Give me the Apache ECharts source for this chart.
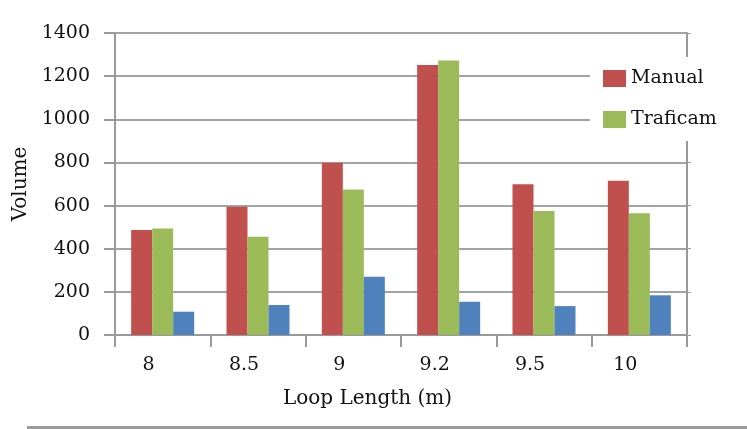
<!DOCTYPE html>
<html>
<head>
<meta charset="utf-8">
<script src="https://cdn.jsdelivr.net/npm/echarts@6/dist/echarts.min.js"></script>
<style>html,body{margin:0;padding:0;background:#fff;}#c{width:747px;height:429px;}</style>
</head>
<body>
<div id="c"></div>
<script>
const categories = ['8', '8.5', '9', '9.2', '9.5', '10'];
const manual = [487, 595, 799, 1252, 699, 715];
const traficam = [494, 456, 675, 1272, 575, 564];
const third = [108, 139, 270, 154, 134, 184];
const yTicks = [0, 200, 400, 600, 800, 1000, 1200, 1400];

const FONT = 'DejaVu Serif';
const chart = echarts.init(document.getElementById('c'), null, {renderer: 'canvas'});
chart.setOption({
  animation: false,
  backgroundColor: '#ffffff',
  grid: {left: 115, right: 60, top: 33, bottom: 94, show: false},
  legend: {
    data: ['Manual', 'Traficam'],
    orient: 'vertical',
    left: 590, top: 57,
    padding: [12, 12, 12, 13],
    backgroundColor: '#ffffff',
    itemWidth: 23, itemHeight: 17, itemGap: 22,
    icon: 'rect',
    textStyle: {fontFamily: FONT, fontSize: 19, color: '#111', padding: [0, 0, 0, 0]}
  },
  xAxis: [{
    type: 'category',
    data: categories,
    boundaryGap: true,
    axisLine: {show: true, lineStyle: {color: '#9a9a9a', width: 2}},
    axisTick: {show: true, inside: false, length: 12, lineStyle: {color: '#9a9a9a', width: 2}},
    axisLabel: {fontFamily: FONT, fontSize: 19, color: '#111', margin: 21, padding: [0, 28, 0, 0]},
    name: 'Loop Length (m)',
    nameLocation: 'middle',
    nameGap: 54,
    nameTextStyle: {fontFamily: FONT, fontSize: 20, color: '#111', padding: [0, 67, 0, 0]}
  }],
  yAxis: [{
    type: 'value',
    min: yTicks[0], max: yTicks[yTicks.length - 1], interval: 200,
    axisLine: {show: true, lineStyle: {color: '#9a9a9a', width: 2}},
    axisTick: {show: true, inside: false, length: 11, lineStyle: {color: '#9a9a9a', width: 2}},
    splitLine: {show: true, lineStyle: {color: '#a3a3a3', width: 2}},
    axisLabel: {fontFamily: FONT, fontSize: 19, color: '#111', margin: 25,
      formatter: function (v) { return String(v); }},
    name: 'Volume',
    nameLocation: 'middle',
    nameGap: 77,
    nameRotate: 90,
    nameTextStyle: {fontFamily: FONT, fontSize: 20, color: '#111'}
  }, {
    type: 'value',
    position: 'right',
    min: yTicks[0], max: yTicks[yTicks.length - 1], interval: 200,
    axisLine: {show: true, lineStyle: {color: '#9a9a9a', width: 2}},
    axisTick: {show: true, inside: false, length: 4, lineStyle: {color: '#9a9a9a', width: 1}},
    splitLine: {show: false},
    axisLabel: {show: false}
  }],
  series: [
    {name: 'Manual', type: 'bar', data: manual, barWidth: 21, barGap: '0%',
     itemStyle: {color: '#C0504D'}, z: 3},
    {name: 'Traficam', type: 'bar', data: traficam, barWidth: 21, barGap: '0%',
     itemStyle: {color: '#9BBB59'}, z: 3},
    {name: 'Series3', type: 'bar', data: third, barWidth: 21, barGap: '0%',
     itemStyle: {color: '#4F81BD'}, z: 3}
  ],
  graphic: [{
    type: 'line', z: 10,
    shape: {x1: 27, y1: 427.5, x2: 747, y2: 427.5},
    style: {stroke: '#999999', lineWidth: 3}
  }]
});
</script>
</body>
</html>
